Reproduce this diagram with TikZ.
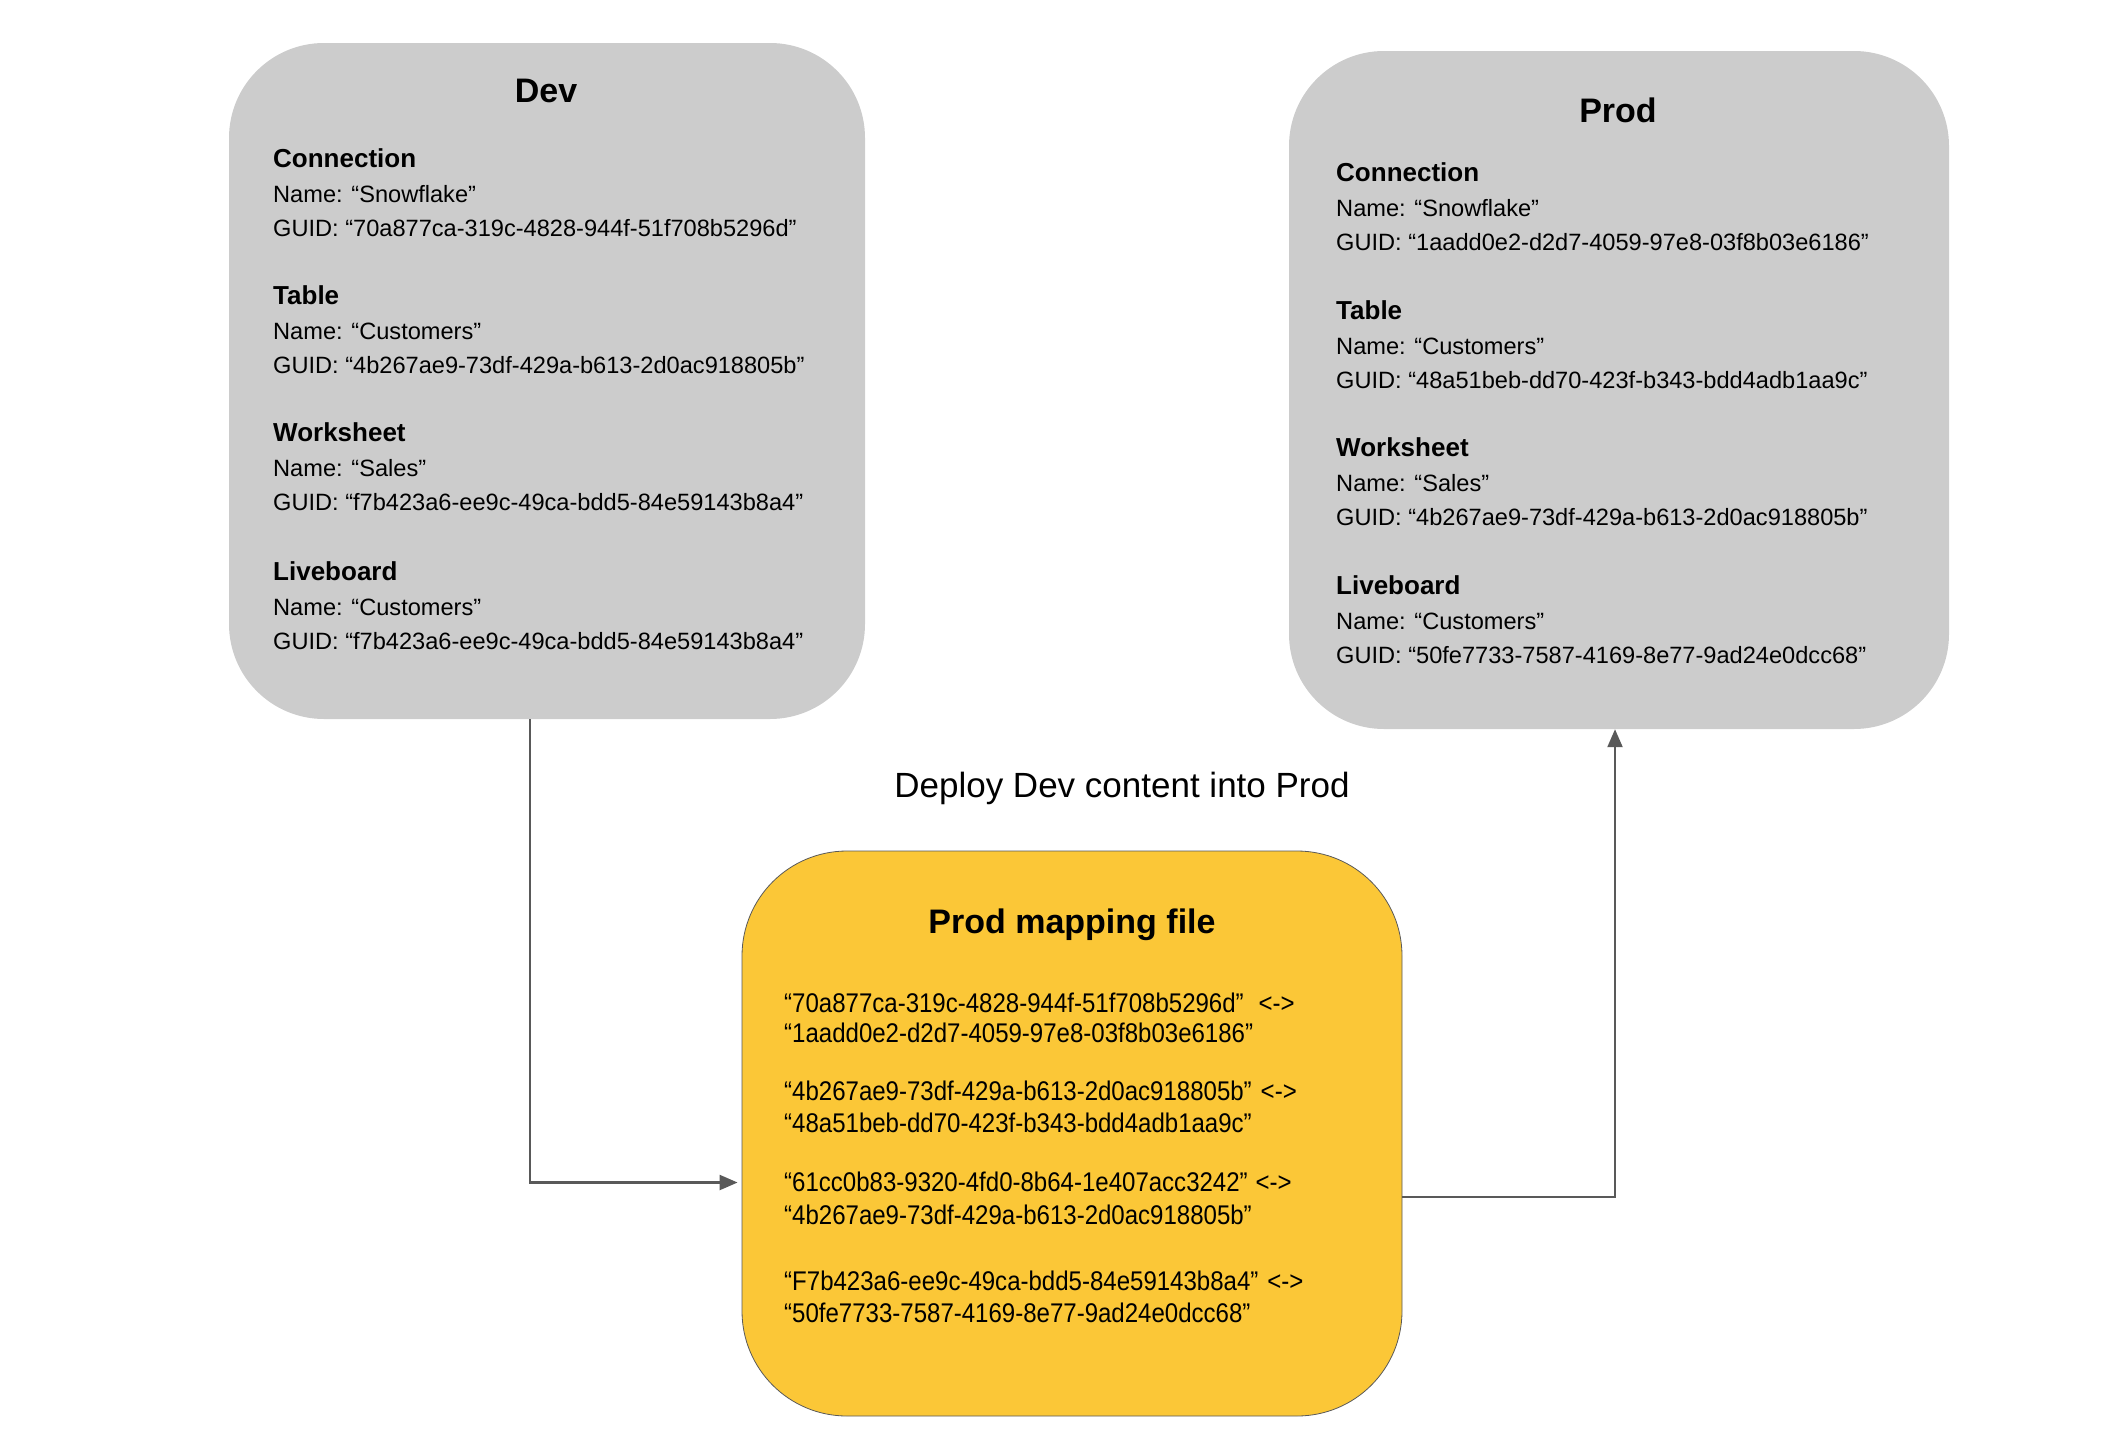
\documentclass[tikz,border=0pt]{standalone}
\usepackage{fontspec}
\setmainfont{Liberation Sans}
\newfontfamily\mapfont[FakeStretch=0.89]{Liberation Sans}
\usetikzlibrary{arrows.meta}
\definecolor{boxgrey}{HTML}{CCCCCC}
\definecolor{mapyellow}{HTML}{FBC737}
\definecolor{linegrey}{HTML}{595959}
\newcommand\envsect[6]{%
  \node[hd] (#1h) at (#2,#3) {#4};
  \node[bd] (#1n) at (#2,#3+35) {#5};
  \node[bd] (#1g) at (#2,#3+69) {#6};}
\newcommand\mapline[4]{%
  \node[mp] (#1) at (784,#2) {“#3”\hspace{#4}<->};}
\begin{document}
\begin{tikzpicture}[x=1pt,y=-1pt,
  envbox/.style={fill=boxgrey, draw=none, rounded corners=95pt, inner sep=0pt},
  mapbox/.style={fill=mapyellow, draw=linegrey, line width=0.8pt, rounded corners=105pt, inner sep=0pt},
  ttl/.style={anchor=base, inner sep=0pt, font=\fontsize{34}{40}\selectfont\bfseries},
  hd/.style={anchor=base west, inner sep=0pt, font=\fontsize{26}{30}\selectfont\bfseries},
  bd/.style={anchor=base west, inner sep=0pt, font=\fontsize{23.6}{28}\selectfont},
  mp/.style={anchor=base west, inner sep=0pt, font=\fontsize{27}{30}\selectfont\mapfont},
  conn/.style={draw=linegrey, line width=2.2pt, -{Triangle[length=18pt,width=15pt]}}]
\useasboundingbox (0,0) rectangle (2112,1440);

% boxes
\node[envbox, minimum width=636pt, minimum height=676pt] (dev) at (547,381) {};
\node[envbox, minimum width=660pt, minimum height=678pt] (prod) at (1619,390) {};
\node[mapbox, minimum width=660pt, minimum height=565pt] (map) at (1072,1133.5) {};

% Dev content
\node[ttl] (devt) at (546,102) {Dev};
\envsect{dc}{273}{167}{Connection}{Name: “Snowflake”}{GUID: “70a877ca-319c-4828-944f-51f708b5296d”}
\envsect{dt}{273}{304}{Table}{Name: “Customers”}{GUID: “4b267ae9-73df-429a-b613-2d0ac918805b”}
\envsect{dw}{273}{441}{Worksheet}{Name: “Sales”}{GUID: “f7b423a6-ee9c-49ca-bdd5-84e59143b8a4”}
\envsect{dl}{273}{580}{Liveboard}{Name: “Customers”}{GUID: “f7b423a6-ee9c-49ca-bdd5-84e59143b8a4”}

% Prod content
\node[ttl] (prodt) at (1618,122) {Prod};
\envsect{pc}{1336}{181}{Connection}{Name: “Snowflake”}{GUID: “1aadd0e2-d2d7-4059-97e8-03f8b03e6186”}
\envsect{pt}{1336}{319}{Table}{Name: “Customers”}{GUID: “48a51beb-dd70-423f-b343-bdd4adb1aa9c”}
\envsect{pw}{1336}{456}{Worksheet}{Name: “Sales”}{GUID: “4b267ae9-73df-429a-b613-2d0ac918805b”}
\envsect{pl}{1336}{594}{Liveboard}{Name: “Customers”}{GUID: “50fe7733-7587-4169-8e77-9ad24e0dcc68”}

% mapping content
\node[ttl] (mapt) at (1072,933) {Prod mapping file};
\mapline{m1a}{1012}{70a877ca-319c-4828-944f-51f708b5296d}{15pt}
\node[mp] (m1b) at (784,1042) {“1aadd0e2-d2d7-4059-97e8-03f8b03e6186”};
\mapline{m2a}{1100}{4b267ae9-73df-429a-b613-2d0ac918805b}{9pt}
\node[mp] (m2b) at (784,1132) {“48a51beb-dd70-423f-b343-bdd4adb1aa9c”};
\mapline{m3a}{1191}{61cc0b83-9320-4fd0-8b64-1e407acc3242}{8pt}
\node[mp] (m3b) at (784,1224) {“4b267ae9-73df-429a-b613-2d0ac918805b”};
\mapline{m4a}{1290}{F7b423a6-ee9c-49ca-bdd5-84e59143b8a4}{9pt}
\node[mp] (m4b) at (784,1322) {“50fe7733-7587-4169-8e77-9ad24e0dcc68”};

% label
\node[anchor=base, inner sep=0pt, font=\fontsize{35}{40}\selectfont] (deploy) at (1122,797) {Deploy Dev content into Prod};

% connectors
\draw[conn] ([xshift=-17pt]dev.south) |- ([yshift=-49pt,xshift=-4pt]map.west);
\draw[conn] ([yshift=-63.5pt]map.east) -| ([xshift=-4pt]prod.south);
\end{tikzpicture}
\end{document}
